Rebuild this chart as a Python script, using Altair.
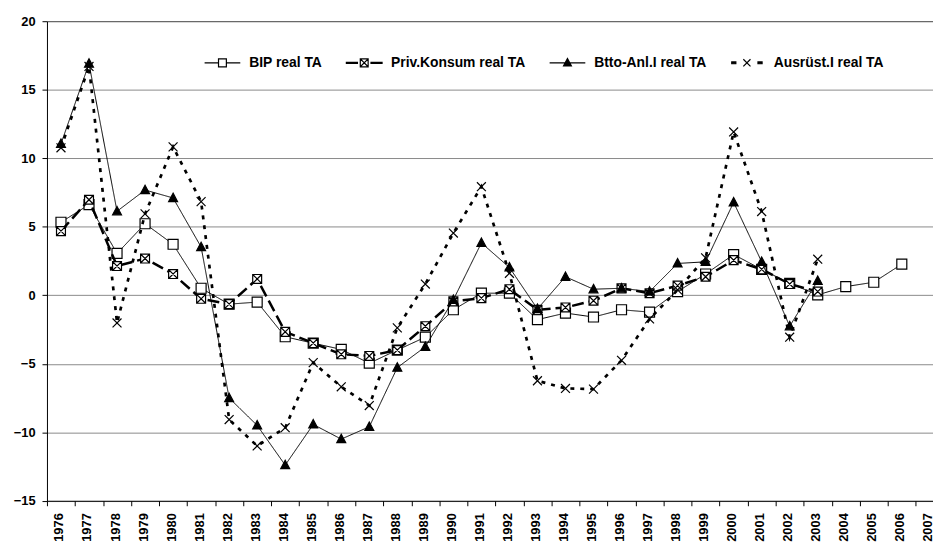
import altair as alt
import pandas as pd

years = list(range(1976, 2008))
names = ["BIP real TA", "Priv.Konsum real TA", "Btto-Anl.I real TA", "Ausrüst.I real TA"]

bip = [5.33, 6.61, 3.05, 5.22, 3.72, 0.51, -0.65, -0.5, -3.03, -3.5, -3.95, -4.96, -4.0, -3.06,
       -1.06, 0.15, 0.15, -1.78, -1.3, -1.59, -1.06, -1.23, 0.27, 1.55, 2.97, 1.89, 0.87, 0.03,
       0.63, 0.95, 2.27]
priv = [4.68, 6.97, 2.13, 2.68, 1.55, -0.26, -0.65, 1.19, -2.67, -3.49, -4.31, -4.43, -4.0, -2.26,
        -0.45, -0.21, 0.44, -1.06, -0.89, -0.4, 0.5, 0.15, 0.7, 1.35, 2.56, 1.89, 0.82, 0.27]
btto = [11.05, 16.9, 6.13, 7.68, 7.1, 3.52, -7.5, -9.5, -12.4, -9.43, -10.5, -9.6, -5.28, -3.76,
        -0.33, 3.82, 2.03, -1.0, 1.35, 0.44, 0.51, 0.27, 2.32, 2.44, 6.78, 2.44, -2.26, 1.06]
ausr = [10.76, 16.7, -2.02, 5.94, 10.83, 6.83, -9.07, -11.0, -9.67, -4.92, -6.68, -8.05, -2.38, 0.82,
        4.54, 7.92, 1.6, -6.24, -6.8, -6.85, -4.75, -1.73, 0.39, 2.73, 11.92, 6.11, -3.06, 2.63]

y_ticks = [-15, -10, -5, 0, 5, 10, 15, 20]

rows = []
for name, vals in zip(names, [bip, priv, btto, ausr]):
    for yr, v in zip(years, vals):
        rows.append({"year": yr, "value": v, "series": name})
df = pd.DataFrame(rows)

FONT = "Liberation Sans"
UNIT = 28.27
PAD_L, PAD_T, PAD_B = 39.3, 11, 44.3
PLOT_W = 933 - PAD_L
PLOT_H = 483.7
SYM = 1296

x_scale = alt.Scale(domain=[1975.5, 1975.5 + PLOT_W / UNIT], nice=False, zero=False)
y_scale = alt.Scale(domain=[-15, 20], nice=False, zero=False)

x_axis = alt.Axis(values=years, format="d", labelAngle=-90, tickOffset=-UNIT / 2,
                  labelOffset=UNIT / 2 - 2, tickSize=5, labelPadding=7, grid=False,
                  domainColor="black", tickColor="black", labelColor="black",
                  labelFont=FONT, labelFontSize=13, labelFontWeight="bold",
                  labelOverlap=False, labelFlush=False, title=None)
y_axis = alt.Axis(values=y_ticks, grid=True,
                  gridColor=alt.condition("datum.value == 20", alt.value("#404040"), alt.value("#8a8a8a")),
                  gridWidth=1, tickSize=5, labelPadding=7, domainColor="black",
                  tickColor="black", labelColor="black", labelFont=FONT, labelFontSize=13,
                  labelFontWeight="bold", title=None)

# per-series styles
dashes = [[1, 0], [12, 5], [1, 0], [4, 6]]
widths = [1, 2.5, 1, 2.7]
markers = [
    "M-0.28,-0.28L0.28,-0.28L0.28,0.28L-0.28,0.28Z",
    "M-0.25,-0.25L0.25,-0.25L0.25,0.25L-0.25,0.25ZM-0.25,-0.25L0.25,0.25M-0.25,0.25L0.25,-0.25",
    "M0,-0.27L0.25,0.2L-0.25,0.2Z",
    "M-0.25,-0.25L0.25,0.25M-0.25,0.25L0.25,-0.25",
]
fills = ["white", "white", "black", "white"]

# legend symbols: sample line + marker
leg_shapes = [
    "M-1,0L-0.22,0M0.22,0L1,0M-0.22,-0.22L0.22,-0.22L0.22,0.22L-0.22,0.22Z",
    "M-1,-0.03L-0.38,-0.03L-0.38,0.03L-1,0.03ZM0.38,-0.03L1,-0.03L1,0.03L0.38,0.03Z"
    "M-0.22,-0.22L0.22,-0.22L0.22,0.22L-0.22,0.22ZM-0.22,-0.22L0.22,0.22M-0.22,0.22L0.22,-0.22",
    "M-1,0L1,0M0,-0.24L0.22,0.17L-0.22,0.17Z",
    "M-0.85,-0.05L-0.62,-0.05L-0.62,0.05L-0.85,0.05ZM0.62,-0.05L0.85,-0.05L0.85,0.05L0.62,0.05Z"
    "M-0.2,-0.2L0.2,0.2M-0.2,0.2L0.2,-0.2",
]
leg_fills = ["white", "white", "black", "black"]

legend = alt.Legend(orient="none", legendX=158, legendY=23, direction="horizontal",
                    title=None, symbolSize=SYM, symbolStrokeWidth=1.2, symbolStrokeColor="black",
                    labelFont=FONT, labelFontSize=14, labelFontWeight="bold",
                    labelColor="black", labelOffset=8, columnPadding=21, padding=0)

base = alt.Chart(df).encode(
    x=alt.X("year:Q", scale=x_scale, axis=x_axis),
    y=alt.Y("value:Q", scale=y_scale, axis=y_axis),
)

layers = []
for name, d, w, m, f in zip(names, dashes, widths, markers, fills):
    sub = base.transform_filter(alt.datum.series == name)
    layers.append(sub.mark_line(color="black", strokeWidth=w, strokeDash=d,
                                strokeCap="butt", strokeJoin="miter"))
    layers.append(sub.mark_point(shape=m, size=SYM, fill=f, stroke="black",
                                 strokeWidth=1.2, opacity=1, filled=True))

legend_layer = base.transform_filter("false").mark_point(
    size=SYM, opacity=1, strokeWidth=1.2
).encode(
    shape=alt.Shape("series:N", scale=alt.Scale(domain=names, range=leg_shapes), legend=legend),
    fill=alt.Fill("series:N", scale=alt.Scale(domain=names, range=leg_fills), legend=legend),
    stroke=alt.Stroke("series:N", scale=alt.Scale(domain=names, range=["black"] * 4), legend=legend),
)
layers.append(legend_layer)

chart = alt.layer(*layers).properties(
    width=PLOT_W, height=PLOT_H,
    autosize=alt.AutoSizeParams(type="none"),
    padding={"left": PAD_L, "top": PAD_T, "right": 0, "bottom": PAD_B},
    background="white",
).configure_view(stroke=None)

chart.save("out.html", embed_options={"renderer": "svg", "actions": False})
